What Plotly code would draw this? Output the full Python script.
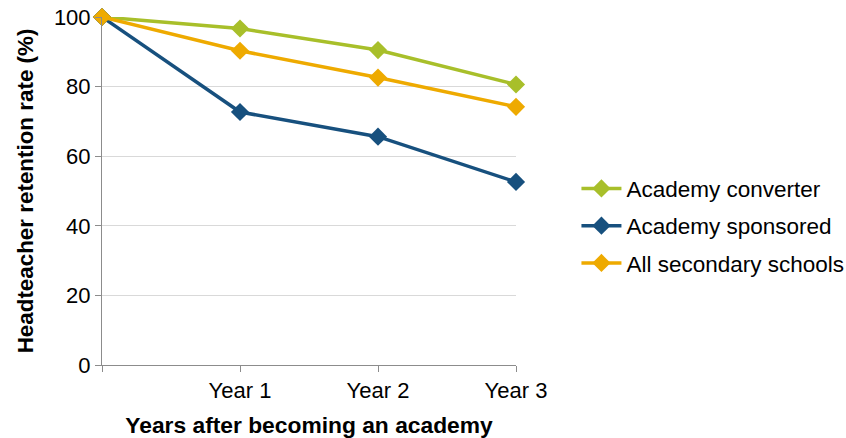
import plotly.graph_objects as go

x_pos = [0, 1, 2, 3]
tick_labels = ["", "Year 1", "Year 2", "Year 3"]
converter = [100, 96.7, 90.5, 80.6]
sponsored = [100, 72.7, 65.6, 52.6]
all_secondary = [100, 90.3, 82.6, 74.2]

series = [
    ("Academy converter", converter, "#A8BF2A"),
    ("Academy sponsored", sponsored, "#17507E"),
    ("All secondary schools", all_secondary, "#EEAA00"),
]

fig = go.Figure()
for i, (name, vals, col) in enumerate(series):
    fig.add_trace(go.Scatter(
        x=x_pos, y=vals, name=name, mode="lines+markers",
        line=dict(color=col, width=3.5),
        marker=dict(symbol="diamond", size=14, color=col),
        legendgroup=f"g{i}", cliponaxis=False,
    ))

font = "Liberation Sans, Arial, sans-serif"
fig.update_layout(
    width=846, height=438,
    margin=dict(l=102, r=330, t=17, b=73, autoexpand=False),
    paper_bgcolor="white", plot_bgcolor="white",
    font=dict(family=font, size=22, color="black"),
    showlegend=True,
    legend=dict(
        x=1.146, xanchor="left", y=0.40, yanchor="middle",
        font=dict(size=22.5, color="black"),
        tracegroupgap=5, itemwidth=40,
        bgcolor="rgba(0,0,0,0)",
    ),
    xaxis=dict(
        range=[0, 3], tickmode="array", tickvals=x_pos, ticktext=tick_labels,
        showgrid=False, zeroline=False, showline=True, linecolor="#8C8C8C", linewidth=1,
        ticks="outside", ticklen=6, tickcolor="#8C8C8C", automargin=False,
        tickfont=dict(size=22),
        title=dict(text="<b>Years after becoming an academy</b>", font=dict(size=22.8), standoff=14),
    ),
    yaxis=dict(
        range=[0, 100], tickvals=[0, 20, 40, 60, 80, 100],
        showgrid=True, gridcolor="#D9D9D9", gridwidth=1,
        zeroline=False, showline=True, linecolor="#8C8C8C", linewidth=1,
        ticks="outside", ticklen=6, tickcolor="#8C8C8C", automargin=False,
        tickfont=dict(size=22),
        title=dict(text="<b>Headteacher retention rate (%)</b>", font=dict(size=22.4), standoff=14),
    ),
)

fig.write_html("out.html", config={"displayModeBar": False},
               post_script="document.body.style.margin='0';")
